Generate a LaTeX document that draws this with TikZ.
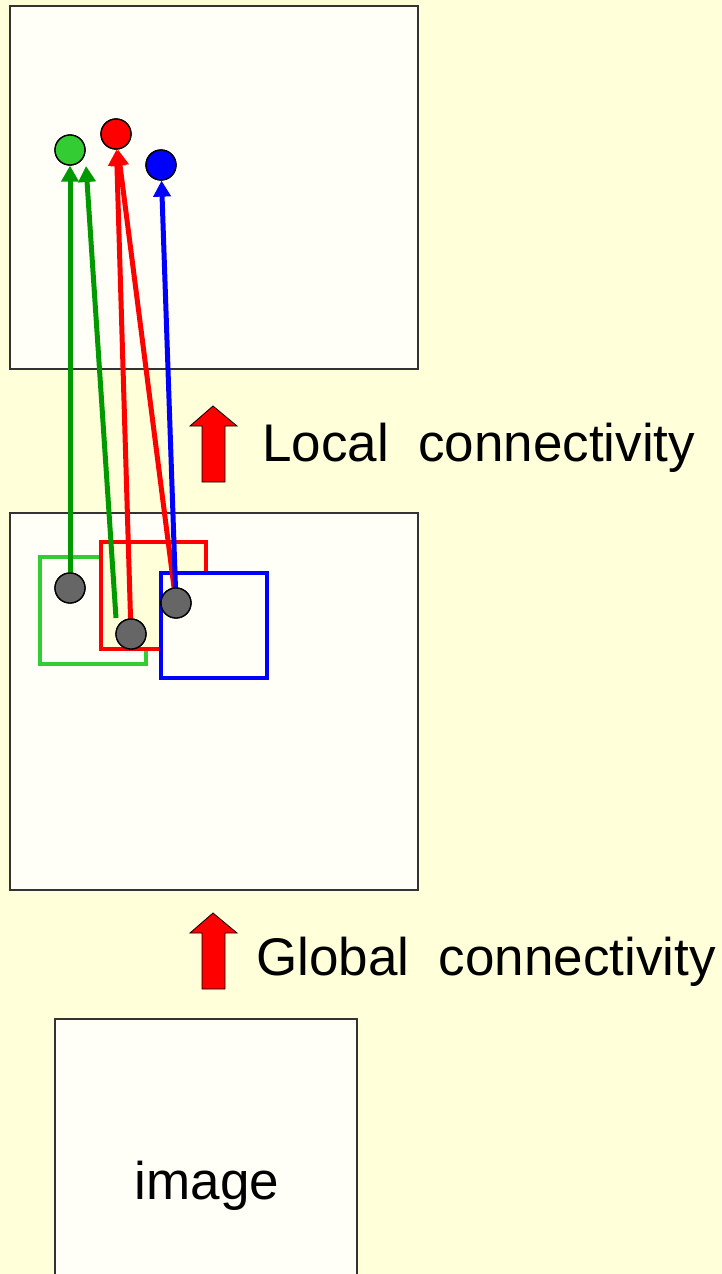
\documentclass[tikz,border=0pt]{standalone}
\usepackage{fontspec}
\setmainfont{Liberation Sans}
\usetikzlibrary{arrows.meta}
\definecolor{bgyellow}{HTML}{FFFFDA}
\definecolor{panelfill}{HTML}{FFFFF7}
\definecolor{dotgreen}{HTML}{33CC33}
\definecolor{linegreen}{HTML}{009900}
\definecolor{dotgray}{HTML}{666666}
\begin{document}
\begin{tikzpicture}[x=1pt,y=-1pt,
  panel/.style={draw=black!80,line width=1.3pt,fill=panelfill},
  field/.style={line width=4.8pt},
  unit/.style={circle,draw=black,line width=1.3pt,minimum size=30pt,inner sep=0pt},
  link/.style={line width=5pt,-{Triangle[width=17pt,length=16pt]}},
  bigarrow/.style={draw=black,line width=0.8pt,fill=red},
  bigtext/.style={font=\fontsize{53}{62}\selectfont,inner sep=0pt},
  label/.style={bigtext,anchor=base west}]
\useasboundingbox (0,0) rectangle (721,1274);
\fill[bgyellow] (0,0) rectangle (721,1274);

% layer panels
\draw[panel] (10,6) rectangle (418,369);
\draw[panel] (10,513) rectangle (418,890);
\draw[panel] (55,1019) rectangle (357,1290);
\node[bigtext,anchor=base] (img) at (207,1199) {image};

% receptive fields
\draw[field,dotgreen] (40,557) rectangle (146,664);
\draw[field,red,fill=bgyellow] (101,542) rectangle (206,649);
\draw[field,blue,fill=panelfill] (161,573) rectangle (267,678);

% units
\node[unit,fill=dotgray] (g1) at (70,588) {};
\node[unit,fill=dotgray] (r1) at (131,634) {};
\node[unit,fill=dotgray] (b1) at (176,603) {};
\node[unit,fill=dotgreen] (gt) at (70,150) {};
\node[unit,fill=red] (rt) at (116,134) {};
\node[unit,fill=blue] (bt) at (161,165) {};
\coordinate (gs) at (116,618);
\coordinate (ge) at (86,166);

% connections
\draw[link,linegreen] (g1.center) -- (gt);
\draw[link,linegreen] (gs) -- (ge);
\draw[link,red] (r1.center) -- (rt);
\draw[link,red] (b1.center) -- (rt);
\draw[link,blue] (b1.center) -- (bt);

% redraw units above the connections
\node[unit,fill=dotgray] at (g1) {};
\node[unit,fill=dotgray] at (r1) {};
\node[unit,fill=dotgray] at (b1) {};
\node[unit,fill=dotgreen] at (gt) {};
\node[unit,fill=red] at (rt) {};
\node[unit,fill=blue] at (bt) {};

% block arrows and labels
\draw[bigarrow] (213,406) -- (237,426) -- (225,426) -- (225,482) -- (202,482) -- (202,426) -- (190,426) -- cycle;
\draw[bigarrow] (213,913) -- (237,933) -- (225,933) -- (225,989) -- (202,989) -- (202,933) -- (190,933) -- cycle;
\node[label] (loc) at (262,461) {Local\ \ connectivity};
\node[label] (glo) at (256,975) {Global\ \ connectivity};
\end{tikzpicture}
\end{document}
